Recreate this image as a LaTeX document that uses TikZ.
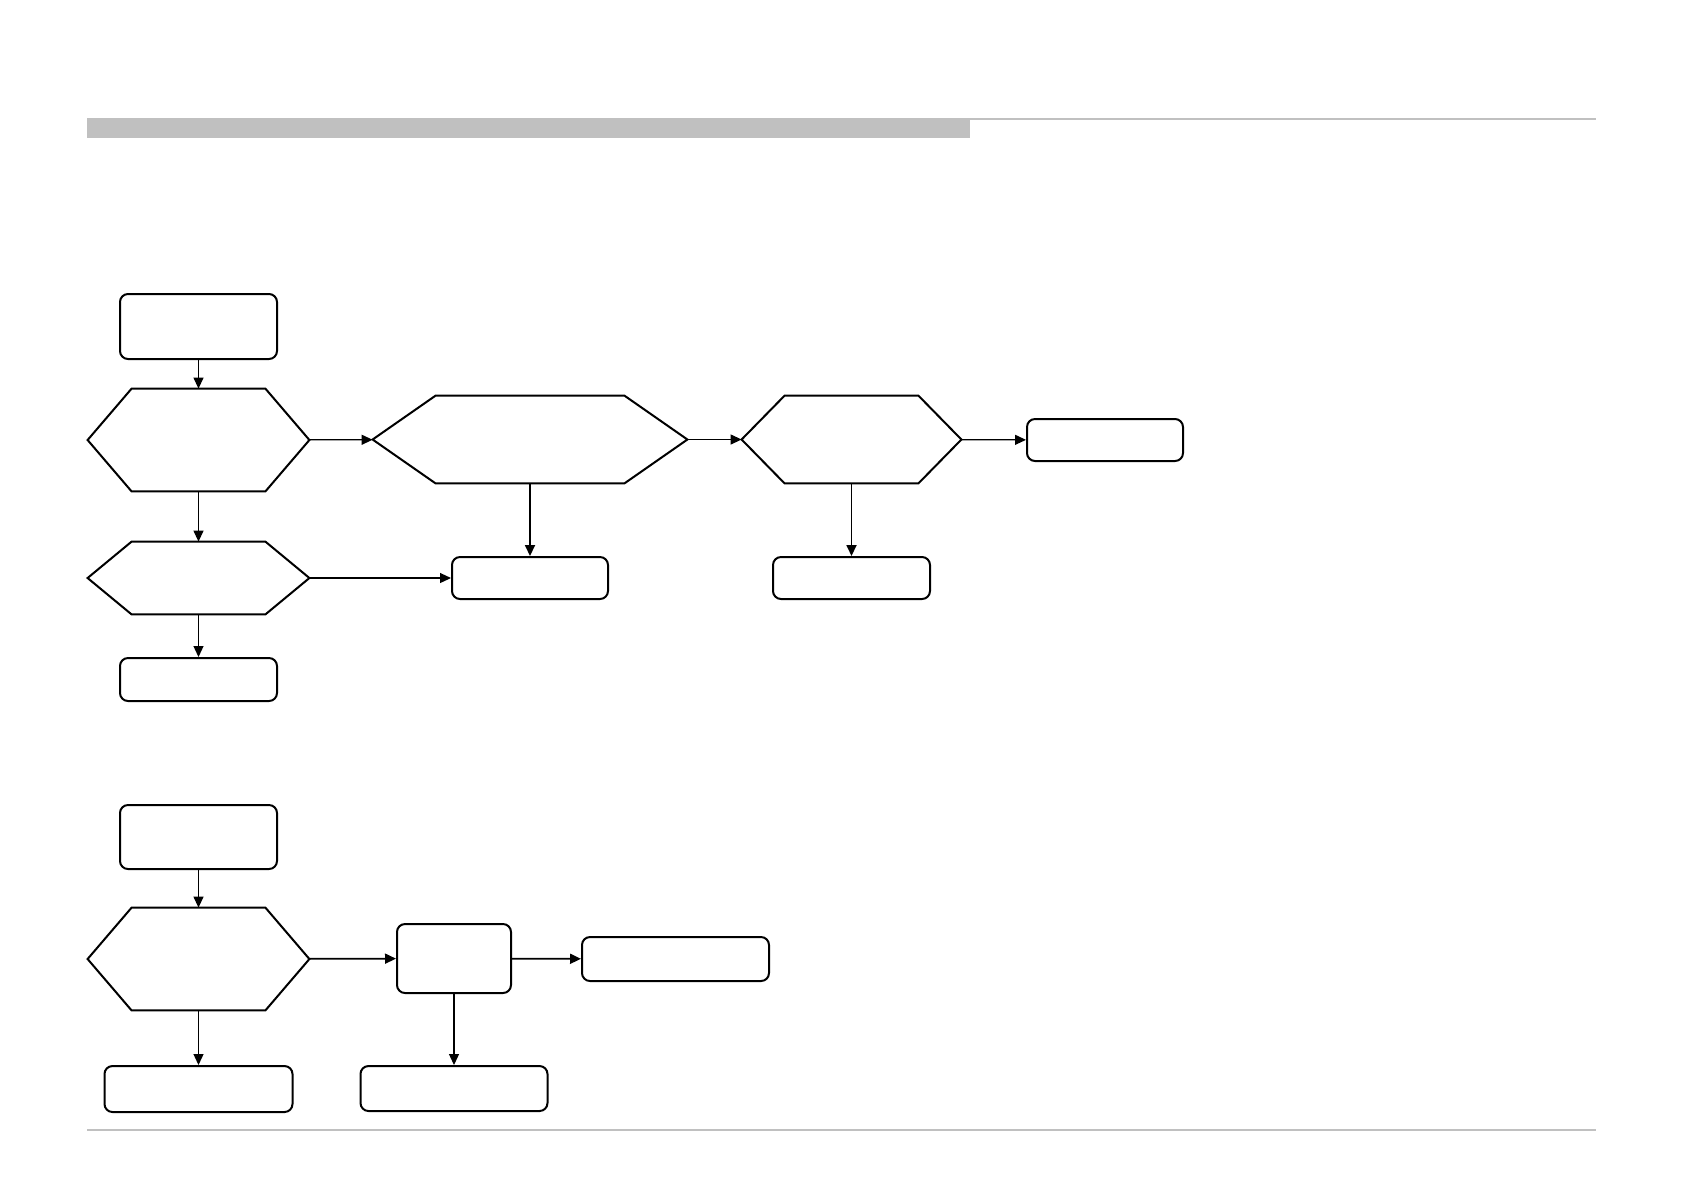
\documentclass[tikz,border=0pt]{standalone}
\usepackage{tikz}
\usetikzlibrary{calc,arrows.meta}
\definecolor{Rule}{HTML}{C0C0C0}
\definecolor{Ink}{HTML}{000000}

\tikzset{
  box/.style={draw=Ink, line width=1pt, rounded corners=4pt, inner sep=0pt},
  hexbox/.style={inner sep=0pt},
  link/.style={draw=Ink, line width=0.6pt, -{Triangle[length=5.5pt,width=5pt]}},
  boldlink/.style={link, line width=0.9pt},
}
% outline of a hexagon drawn over a hidden node
\newcommand{\hexout}[2]{%
  \draw[draw=Ink, line width=1pt] (#1.west) -- ($(#1.north west)+(#2,0)$)
    -- ($(#1.north east)+(-#2,0)$) -- (#1.east) -- ($(#1.south east)+(-#2,0)$)
    -- ($(#1.south west)+(#2,0)$) -- cycle;}

\begin{document}
\begin{tikzpicture}[x=0.5pt, y=-0.5pt]
  \useasboundingbox (0,0) rectangle (1684,1191);

  % header and footer rules
  \fill[Rule] (87,118) rectangle (970,137.5);
  \draw[Rule, line width=1pt] (970,119) -- (1596,119);
  \draw[Rule, line width=0.8pt] (87,1130) -- (1596,1130);

  % first chart
  \node[box, minimum width=78.5pt, minimum height=32.5pt] (startA) at (198.5,326.5) {};
  \node[hexbox, minimum width=110.5pt, minimum height=51pt] (askA) at (198.5,440) {};
  \hexout{askA}{44}
  \node[hexbox, minimum width=157pt, minimum height=43.5pt] (askB) at (530,439.5) {};
  \hexout{askB}{63}
  \node[hexbox, minimum width=109.5pt, minimum height=43.5pt] (askC) at (851.5,439.5) {};
  \hexout{askC}{43}
  \node[box, minimum width=78pt, minimum height=21pt] (endC) at (1105,440) {};
  \node[hexbox, minimum width=110.5pt, minimum height=36pt] (askD) at (198.5,578) {};
  \hexout{askD}{44}
  \node[box, minimum width=78pt, minimum height=21pt] (endB) at (530,578) {};
  \node[box, minimum width=78.5pt, minimum height=21pt] (endD) at (851.5,578) {};
  \node[box, minimum width=78.5pt, minimum height=21.5pt] (endA) at (198.5,679.5) {};

  \draw[link] (startA) -- (askA);
  \draw[link] (askA) -- (askB);
  \draw[link] (askB) -- (askC);
  \draw[link] (askC) -- (endC);
  \draw[link] (askA) -- (askD);
  \draw[link] (askD) -- (endB);
  \draw[boldlink] (askB) -- (endB);
  \draw[boldlink] (askC) -- (endD);
  \draw[link] (askD) -- (endA);

  % second chart
  \node[box, minimum width=78.5pt, minimum height=32pt] (startE) at (198.5,837) {};
  \node[hexbox, minimum width=110.5pt, minimum height=51pt] (askE) at (198.5,959) {};
  \hexout{askE}{44}
  \node[box, minimum width=57pt, minimum height=34.5pt] (stepE) at (454,958.5) {};
  \node[box, minimum width=93.5pt, minimum height=22pt] (endF) at (675.5,959) {};
  \node[box, minimum width=94pt, minimum height=23pt] (endE) at (198.5,1089) {};
  \node[box, minimum width=93.5pt, minimum height=22.5pt] (endG) at (454,1088.5) {};

  \draw[link] (startE) -- (askE);
  \draw[boldlink] (askE) -- (stepE);
  \draw[boldlink] (stepE) -- (endF);
  \draw[link] (askE) -- (endE);
  \draw[link] (stepE) -- (endG);
\end{tikzpicture}
\end{document}
